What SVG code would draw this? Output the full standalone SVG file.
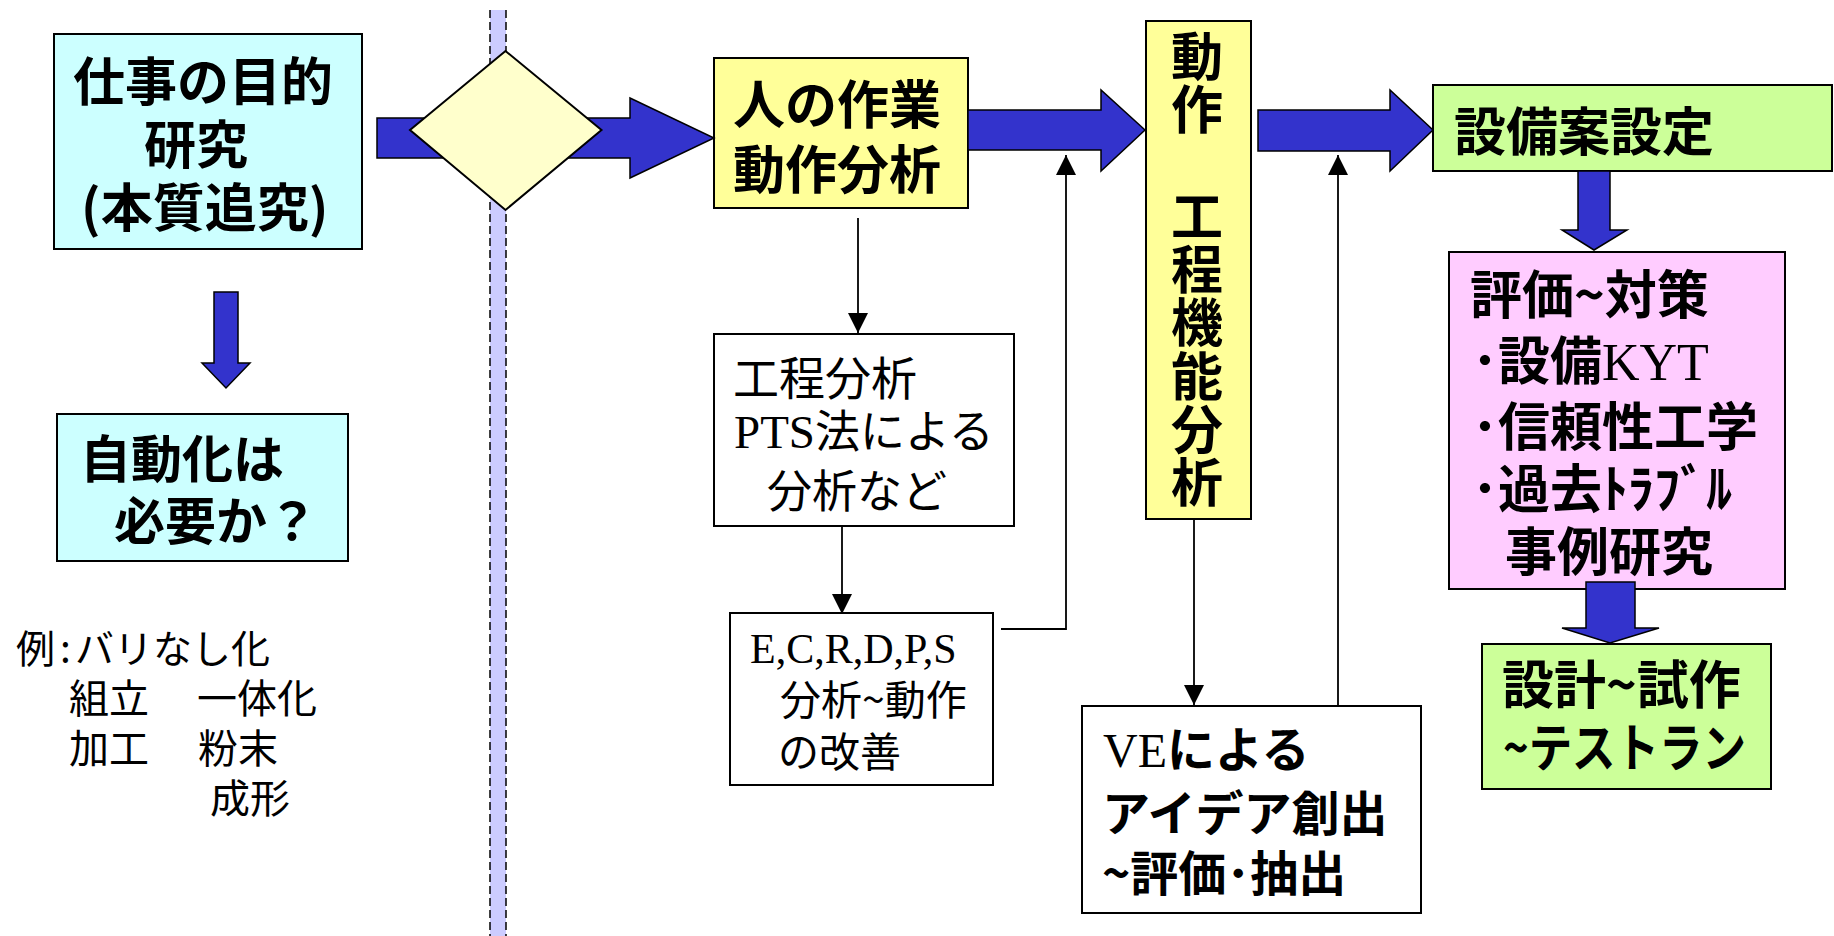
<svg xmlns="http://www.w3.org/2000/svg" width="1834" height="936" viewBox="0 0 1834 936">
<style>
.box{stroke:#000;stroke-width:2}
.cyan{fill:#ccffff}
.yel{fill:#ffff99}
.grn{fill:#ccff99}
.pnk{fill:#ffccff}
.wht{fill:#ffffff}
.blk{fill:#3333cc;stroke:#000;stroke-width:1.5;stroke-linejoin:miter}
.thin{fill:none;stroke:#000;stroke-width:1.8}
.jb{font-family:"Noto Sans CJK JP","Noto Sans",sans-serif;font-weight:bold;fill:#000}
.jr{font-family:"Noto Sans CJK JP","Noto Sans",sans-serif;font-weight:normal;fill:#000}
.sf{font-family:"Liberation Serif","Noto Sans CJK JP",serif;font-weight:normal}
</style>
<defs>
<marker id="ah" markerUnits="userSpaceOnUse" markerWidth="20" markerHeight="20" refX="20" refY="10" orient="auto">
<path d="M0,0 L20,10 L0,20 z" fill="#000"/>
</marker>
</defs>
<rect x="0" y="0" width="1834" height="936" fill="#ffffff"/>

<g id="separator">
<rect x="490" y="10" width="16" height="926" fill="#ccccff"/>
<line x1="490" y1="10" x2="490" y2="936" stroke="#000" stroke-width="1.5" stroke-dasharray="8,4"/>
<line x1="506" y1="10" x2="506" y2="936" stroke="#000" stroke-width="1.5" stroke-dasharray="8,4"/>
</g>

<g id="purpose">
<rect class="box cyan" x="54" y="34" width="308" height="215"/>
<text class="jb" font-size="52" x="73" y="101">仕事の目的</text>
<text class="jb" font-size="52" x="144" y="164">研究</text>
<text class="jb" font-size="52" x="81" y="227">(本質追究)</text>
</g>

<g id="need">
<rect class="box cyan" x="57" y="414" width="291" height="147"/>
<text class="jb" font-size="51" x="80" y="478">自動化は</text>
<text class="jb" font-size="51" x="114" y="540">必要か？</text>
</g>

<g id="examples">
<text class="jr" font-size="39" x="16" y="663">例<tspan x="60">:</tspan><tspan x="75">バリなし化</tspan></text>
<text class="jr" font-size="40" x="69" y="713">組立</text>
<text class="jr" font-size="40" x="197" y="713">一体化</text>
<text class="jr" font-size="40" x="69" y="763">加工</text>
<text class="jr" font-size="40" x="198" y="763">粉末</text>
<text class="jr" font-size="40" x="210" y="813">成形</text>
</g>

<g id="human">
<rect class="box yel" x="714" y="58" width="254" height="150"/>
<text class="jb" font-size="52" x="733" y="124">人の作業</text>
<text class="jb" font-size="52" x="733" y="189">動作分析</text>
</g>

<g id="process">
<rect class="box wht" x="714" y="334" width="300" height="192"/>
<text class="jr" font-size="46" x="733" y="395">工程分析</text>
<text class="jr" font-size="45" x="734" y="448"><tspan class="sf" font-size="47">PTS</tspan>法による</text>
<text class="jr" font-size="45" x="767" y="508">分析など</text>
</g>

<g id="ecrdps">
<rect class="box wht" x="730" y="613" width="263" height="172"/>
<text class="sf" font-size="42" x="750" y="663">E,C,R,D,P,S</text>
<text class="jr" font-size="41" x="780" y="715">分析~動作</text>
<text class="jr" font-size="41" x="778" y="767">の改善</text>
</g>

<g id="function">
<rect class="box yel" x="1146" y="21" width="105" height="498"/>
<text class="jb" font-size="52" x="1197" y="30" writing-mode="vertical-rl" letter-spacing="1.3">動作　工程機能分析</text>
</g>

<g id="ve">
<rect class="box wht" x="1082" y="706" width="339" height="207"/>
<text class="jb" font-size="48" x="1103" y="767"><tspan class="sf">VE</tspan>による</text>
<text class="jb" font-size="48" x="1102" y="831">アイデア創出</text>
<text class="jb" font-size="48" x="1102" y="891">~評価･抽出</text>
</g>

<g id="equipment">
<rect class="box grn" x="1433" y="85" width="399" height="86"/>
<text class="jb" font-size="52" x="1454" y="151">設備案設定</text>
</g>

<g id="evaluation">
<rect class="box pnk" x="1449" y="252" width="336" height="337"/>
<text class="jb" font-size="52" x="1470" y="314">評価~対策</text>
<text class="jb" font-size="52" x="1472" y="380">･設備<tspan class="sf">KYT</tspan></text>
<text class="jb" font-size="52" x="1472" y="446">･信頼性工学</text>
<text class="jb" font-size="52" x="1472" y="508">･過去ﾄﾗﾌﾞﾙ</text>
<text class="jb" font-size="52" x="1505" y="571">事例研究</text>
</g>

<g id="design">
<rect class="box grn" x="1482" y="644" width="289" height="145"/>
<text class="jb" font-size="52" x="1502" y="704">設計~試作</text>
<text class="jb" font-size="52" x="1503" y="767" textLength="243" lengthAdjust="spacingAndGlyphs">~テストラン</text>
</g>

<g id="connectors">
<polygon class="blk" points="377,118 630,118 630,98 714,138 630,178 630,158 377,158"/>
<polygon class="blk" points="968,110 1101,110 1101,90 1145,130 1101,171 1101,150 968,150"/>
<polygon class="blk" points="1258,110 1390,110 1390,90 1433,130 1390,171 1390,151 1258,151"/>
<polygon class="blk" points="214,292 238,292 238,363 250,363 226,388 202,363 214,363"/>
<polygon class="blk" points="1578,171 1610,171 1610,230 1627,230 1594,250 1562,230 1578,230"/>
<polygon class="blk" points="1586,582 1635,582 1635,628 1659,628 1610,643 1562,628 1586,628"/>
<line class="thin" x1="858" y1="218" x2="858" y2="333" marker-end="url(#ah)"/>
<line class="thin" x1="842" y1="525" x2="842" y2="614" marker-end="url(#ah)"/>
<polyline class="thin" points="1001,629 1066,629 1066,155" marker-end="url(#ah)"/>
<line class="thin" x1="1194" y1="519" x2="1194" y2="705" marker-end="url(#ah)"/>
<line class="thin" x1="1338" y1="706" x2="1338" y2="155" marker-end="url(#ah)"/>
</g>

<g id="decision">
<polygon points="505.5,51 601.5,130 505.5,210 410,130" fill="#ffffcc" stroke="#000" stroke-width="2"/>
</g>
</svg>
